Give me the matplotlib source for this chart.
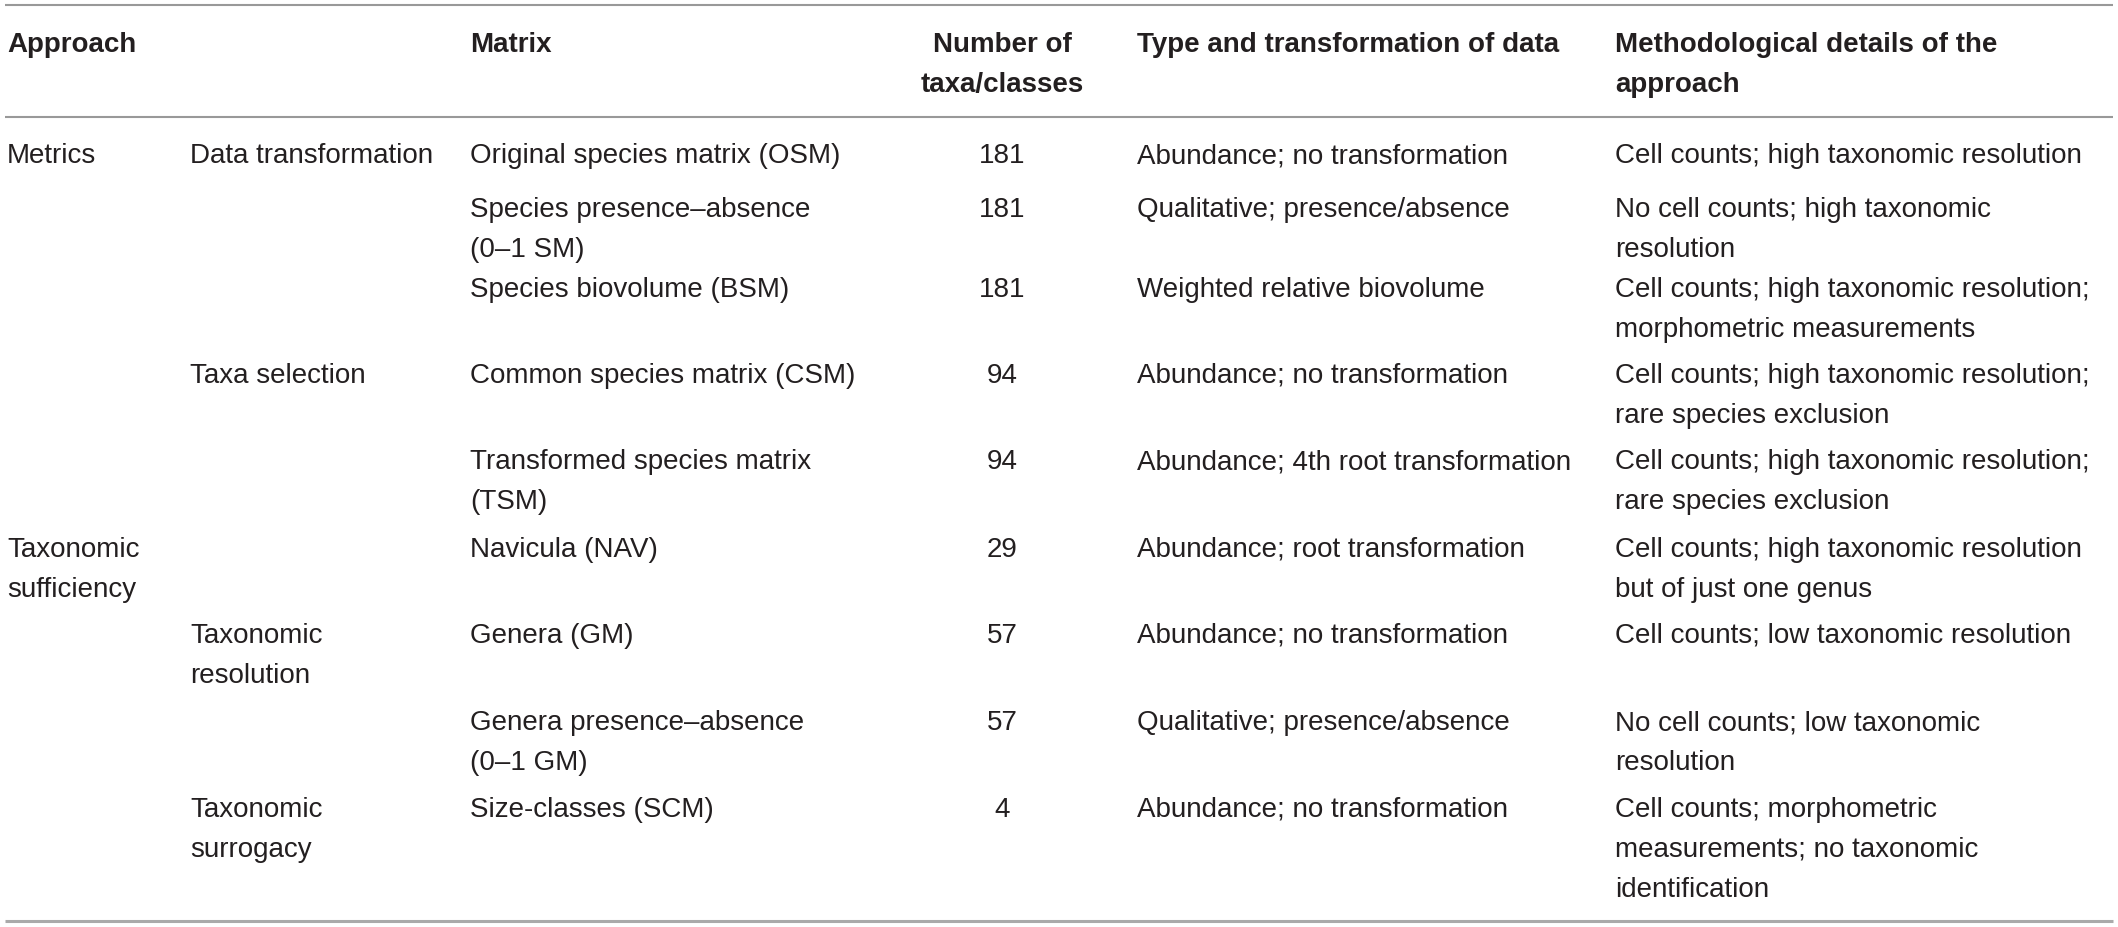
import matplotlib.pyplot as plt

plt.rcParams['font.family'] = ['Liberation Sans', 'DejaVu Sans']

# table content
headers = ["Approach", "", "Matrix", "Number of\ntaxa/classes",
           "Type and transformation of data", "Methodological details of the\napproach"]

approach = ["Metrics", "", "", "", "", "Taxonomic\nsufficiency", "", "", ""]
subgroup = ["Data transformation", "", "", "Taxa selection", "", "",
            "Taxonomic\nresolution", "", "Taxonomic\nsurrogacy"]
matrix = ["Original species matrix (OSM)",
          "Species presence\u2013absence\n(0\u20131 SM)",
          "Species biovolume (BSM)",
          "Common species matrix (CSM)",
          "Transformed species matrix\n(TSM)",
          "Navicula (NAV)",
          "Genera (GM)",
          "Genera presence\u2013absence\n(0\u20131 GM)",
          "Size-classes (SCM)"]
n_taxa = [181, 181, 181, 94, 94, 29, 57, 57, 4]
data_type = ["Abundance; no transformation",
             "Qualitative; presence/absence",
             "Weighted relative biovolume",
             "Abundance; no transformation",
             "Abundance; 4th root transformation",
             "Abundance; root transformation",
             "Abundance; no transformation",
             "Qualitative; presence/absence",
             "Abundance; no transformation"]
details = ["Cell counts; high taxonomic resolution",
           "No cell counts; high taxonomic\nresolution",
           "Cell counts; high taxonomic resolution;\nmorphometric measurements",
           "Cell counts; high taxonomic resolution;\nrare species exclusion",
           "Cell counts; high taxonomic resolution;\nrare species exclusion",
           "Cell counts; high taxonomic resolution\nbut of just one genus",
           "Cell counts; low taxonomic resolution",
           "No cell counts; low taxonomic\nresolution",
           "Cell counts; morphometric\nmeasurements; no taxonomic\nidentification"]

# layout (pixels)
W, H = 2118, 927
col_x = [7, 190, 470, 1002, 1137, 1615]
col_ha = ['left', 'left', 'left', 'center', 'left', 'left']
row_base = [163, 217, 297, 383, 469, 557, 643, 730, 817]
header_base = 52
line_gap = 40
fs = 20
txt_color = '#231f20'

fig = plt.figure(figsize=(W / 100, H / 100), dpi=100)
ax = fig.add_axes([0, 0, 1, 1])
ax.set_xlim(0, W)
ax.set_ylim(H, 0)
ax.axis('off')


def cell(x, y, s, ha, weight='normal'):
    for k, line in enumerate(s.split('\n')):
        ax.text(x, y + k * line_gap, line, ha=ha, va='baseline',
                fontsize=fs, fontweight=weight, color=txt_color)


for j, h in enumerate(headers):
    cell(col_x[j], header_base, h, col_ha[j], weight='bold')

columns = [approach, subgroup, matrix, [str(v) for v in n_taxa], data_type, details]
for j, col in enumerate(columns):
    for i, s in enumerate(col):
        if s:
            cell(col_x[j], row_base[i], s, col_ha[j])

ax.hlines([5, 117], 5, 2113, colors='#999999', linewidth=1.5)
ax.hlines([921], 5, 2113, colors='#aaaaaa', linewidth=2.2)

fig.savefig('out.png', dpi=100, facecolor='white')
